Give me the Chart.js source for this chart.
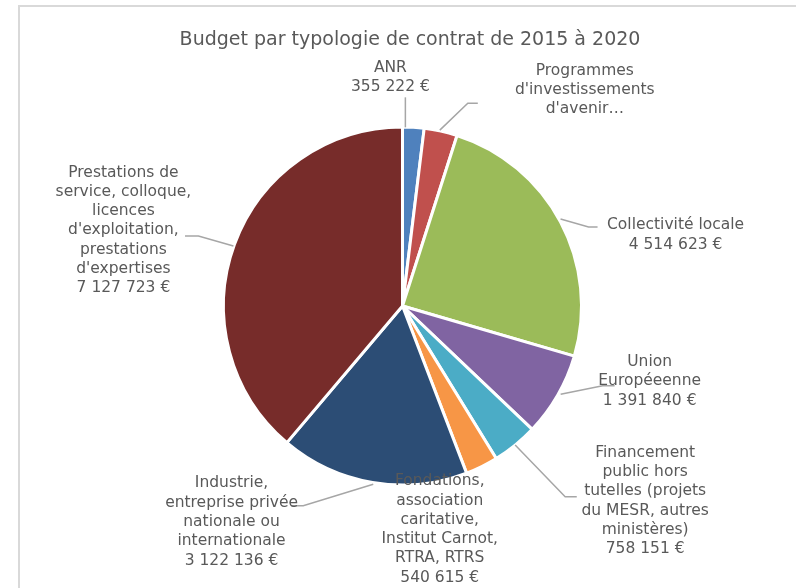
<!DOCTYPE html>
<html lang="fr">
<head>
<meta charset="UTF-8">
<title>Budget par typologie de contrat</title>
<style>
  html, body { margin: 0; padding: 0; background: #fff; }
  #wrap { width: 796px; height: 588px; }
</style>
</head>
<body>
<script src="https://cdn.jsdelivr.net/npm/chart.js@4/dist/chart.umd.min.js"></script>
<div id="wrap"><canvas id="budget"></canvas></div>
<script>
// categories + montants (euros)
var titre = 'Budget par typologie de contrat de 2015 à 2020';
var categories = [
    'ANR',
    "Programmes d'investissements d'avenir",
    'Collectivité locale',
    'Union Européeenne',
    'Financement public hors tutelles (projets du MESR, autres ministères)',
    'Fondations, association caritative, Institut Carnot, RTRA, RTRS',
    'Industrie, entreprise privée nationale ou internationale',
    "Prestations de service, colloque, licences d'exploitation, prestations d'expertises"
];
var montants = [355222, 550000, 4514623, 1391840, 758151, 540615, 3122136, 7127723];

// texte des etiquettes, coupé comme dans l'original
var etiquettes = [
    ['ANR'],
    ['Programmes', "d'investissements", "d'avenir…"],
    ['Collectivité locale'],
    ['Union', 'Européeenne'],
    ['Financement', 'public hors', 'tutelles (projets', 'du MESR, autres', 'ministères)'],
    ['Fondations,', 'association', 'caritative,', 'Institut Carnot,', 'RTRA, RTRS'],
    ['Industrie,', 'entreprise privée', 'nationale ou', 'internationale'],
    ['Prestations de', 'service, colloque,', 'licences', "d'exploitation,", 'prestations', "d'expertises"]
];
var afficheMontant = [true, false, true, true, true, true, true, true];

var couleurs = ['#4f81bd', '#c0504d', '#9bbb59', '#8064a2', '#4bacc6', '#f79646', '#2c4d75', '#772c2a'];

// position des etiquettes par rapport au point milieu de l'arc + traits de rappel
var placement = [
    { dx: -23, dy: -50, leader: [[-8, 0], [-8, -30]] },
    { dx: 144, dy: -41, leader: [[-1, -1], [27, -28], [37, -28]] },
    { dx: 115, dy: 13, leader: [[0, -3], [28, 5], [37, 5]] },
    { dx: 92, dy: -14, leader: [[3, -1], [45, -9.5], [57, -9.5]] },
    { dx: 130, dy: 56, leader: [[0, 0], [50, 51.6], [61.6, 51.6]] },
    { dx: -42, dy: 63, leader: null },
    { dx: -141, dy: 39.5, leader: [[0.7, 1.8], [-69.3, 23.2], [-81, 23.2]] },
    { dx: -111, dy: -14, leader: [[-1, 1.5], [-36, -8.5], [-49.4, -8.5]] }
];

var LH = 19.3;

function euros(v) {
    return String(v).replace(/\B(?=(\d{3})+(?!\d))/g, ' ') + ' €';
}

var etiquettesPlugin = {
    id: 'etiquettes',
    beforeDraw: function (chart) {
        var ctx = chart.ctx;
        ctx.save();
        // cadre du graphique
        ctx.strokeStyle = '#d9d9d9';
        ctx.lineWidth = 2;
        ctx.strokeRect(19, 6, 1000, 1000);
        // titre
        ctx.font = '19px "DejaVu Sans"';
        ctx.fillStyle = '#595959';
        ctx.textAlign = 'center';
        ctx.textBaseline = 'middle';
        ctx.fillText(titre, 410, 40);
        ctx.restore();
    },
    afterDatasetsDraw: function (chart) {
        var ctx = chart.ctx;
        var meta = chart.getDatasetMeta(0);
        ctx.save();
        ctx.font = '15.5px "DejaVu Sans"';
        ctx.fillStyle = '#595959';
        ctx.textAlign = 'center';
        ctx.textBaseline = 'middle';
        meta.data.forEach(function (arc, i) {
            var p = arc.getProps(['x', 'y', 'startAngle', 'endAngle', 'outerRadius'], true);
            var mid = (p.startAngle + p.endAngle) / 2;
            var ax = p.x + Math.cos(mid) * p.outerRadius;
            var ay = p.y + Math.sin(mid) * p.outerRadius;
            var pl = placement[i];

            if (pl.leader) {
                ctx.beginPath();
                ctx.strokeStyle = '#a6a6a6';
                ctx.lineWidth = 1.5;
                pl.leader.forEach(function (pt, k) {
                    if (k === 0) ctx.moveTo(ax + pt[0], ay + pt[1]);
                    else ctx.lineTo(ax + pt[0], ay + pt[1]);
                });
                ctx.stroke();
            }

            var lignes = etiquettes[i].slice();
            if (afficheMontant[i]) lignes.push(euros(chart.data.datasets[0].data[i]));
            var y0 = ay + pl.dy - (lignes.length - 1) * LH / 2;
            lignes.forEach(function (l, k) {
                ctx.fillText(l, ax + pl.dx, y0 + k * LH);
            });
        });
        ctx.restore();
    }
};

var ctx = document.getElementById('budget').getContext('2d');
var chart = new Chart(ctx, {
    type: 'pie',
    data: {
        labels: categories,
        datasets: [{
            data: montants,
            backgroundColor: couleurs,
            borderColor: '#ffffff',
            borderWidth: 3,
            hoverOffset: 0
        }]
    },
    options: {
        responsive: true,
        maintainAspectRatio: false,
        animation: false,
        radius: 179,
        layout: {
            padding: { left: 109, right: 100, top: 127, bottom: 103 }
        },
        plugins: {
            legend: { display: false },
            tooltip: { enabled: false },
            title: { display: false }
        }
    },
    plugins: [etiquettesPlugin]
});
</script>
</body>
</html>
